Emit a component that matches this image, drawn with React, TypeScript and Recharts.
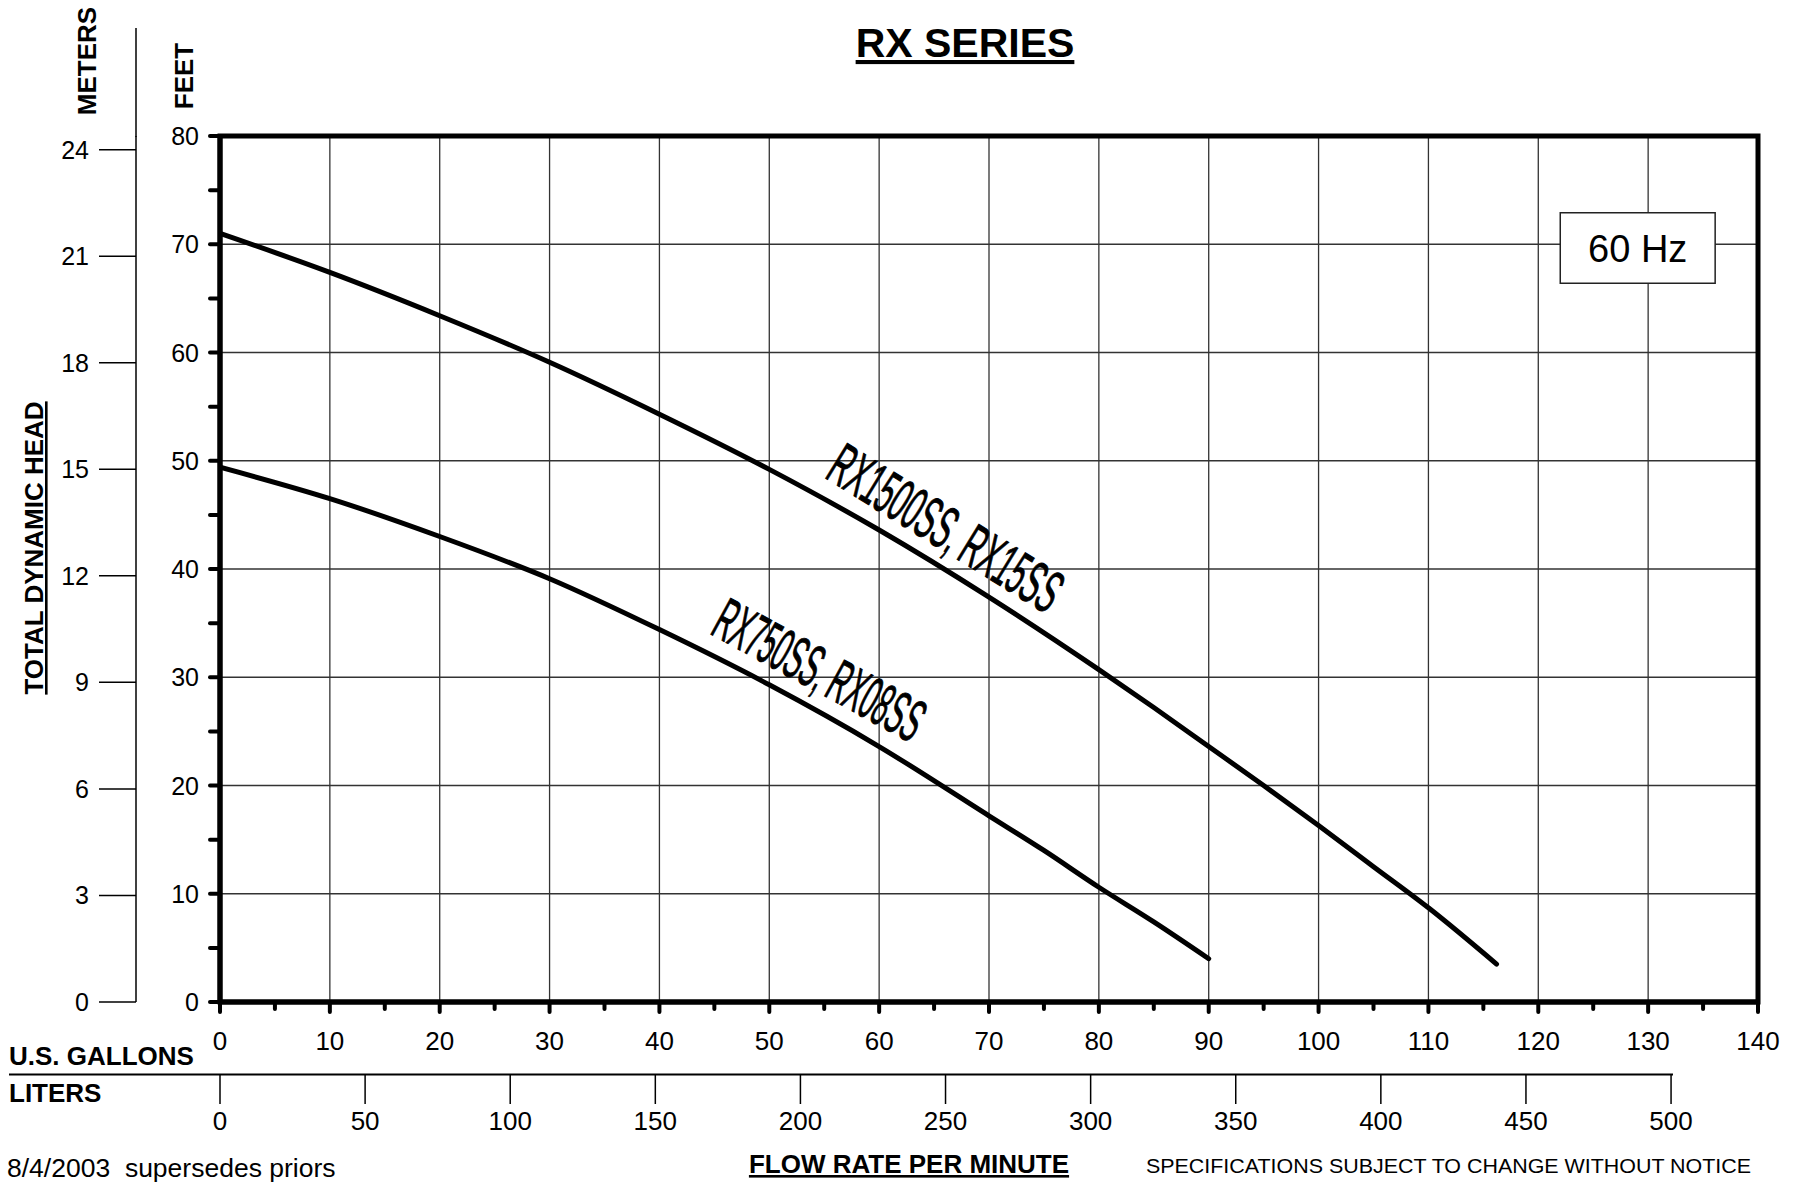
import React from 'react';
import { LineChart, Line, XAxis, YAxis, CartesianGrid, ReferenceArea, ReferenceDot } from 'recharts';

const FONT = '"Liberation Sans", Arial, Helvetica, sans-serif';
const FT_PER_M = 3.28084;
const L_PER_GAL = 3.78541;

// axis ticks (minor ticks every 5 on the feet / gallon axes)
const galTicks = [0, 5, 10, 15, 20, 25, 30, 35, 40, 45, 50, 55, 60, 65, 70, 75, 80, 85, 90, 95, 100, 105, 110, 115, 120, 125, 130, 135, 140];
const feetTicks = [0, 5, 10, 15, 20, 25, 30, 35, 40, 45, 50, 55, 60, 65, 70, 75, 80];
const meterTicks = [0, 3, 6, 9, 12, 15, 18, 21, 24];
const literTicks = [0, 50, 100, 150, 200, 250, 300, 350, 400, 450, 500];
const gridGal = [10, 20, 30, 40, 50, 60, 70, 80, 90, 100, 110, 120, 130];
const gridFeet = [10, 20, 30, 40, 50, 60, 70];

// RX1500SS, RX15SS curve (gallons per minute / feet of head)
const rx1500Gal = [0, 10, 20, 30, 40, 50, 60, 70, 80, 85, 90, 95, 100, 105, 110, 116.2];
const rx1500Head = [71.0, 67.4, 63.4, 59.1, 54.3, 49.2, 43.6, 37.4, 30.7, 27.2, 23.6, 20.0, 16.3, 12.5, 8.7, 3.5];

// RX750SS, RX08SS curve
const rx750Gal = [0, 10, 20, 30, 40, 50, 60, 70, 75, 80, 85, 90];
const rx750Head = [49.4, 46.5, 43.0, 39.1, 34.4, 29.3, 23.6, 17.2, 14.0, 10.6, 7.4, 4.0];

const rx1500 = rx1500Gal.map((g, i) => ({ gal: g, head: rx1500Head[i] }));
const rx750 = rx750Gal.map((g, i) => ({ gal: g, head: rx750Head[i] }));
// same curve expressed in liters, only used so the liters axis has a series
const rx750Liters = rx750Gal.map((g, i) => ({ liters: g * L_PER_GAL, head: rx750Head[i] }));

const GalTick = (props: any) => {
  const { x, y, payload } = props;
  const major = payload.value % 10 === 0;
  return (
    <g>
      <line x1={x} x2={x} y1={y} y2={y + (major ? 10 : 7)} stroke="#000" strokeWidth={4} strokeLinecap="round" />
      {major && (
        <text x={x} y={y + 48} textAnchor="middle" fontSize={26} fontFamily={FONT} fill="#000">
          {payload.value}
        </text>
      )}
    </g>
  );
};

const FeetTick = (props: any) => {
  const { x, y, payload } = props;
  const major = payload.value % 10 === 0;
  return (
    <g>
      <line x1={x - 10} x2={x} y1={y} y2={y} stroke="#000" strokeWidth={4} strokeLinecap="round" />
      {major && (
        <text x={x - 21} y={y + 9} textAnchor="end" fontSize={25} fontFamily={FONT} fill="#000">
          {payload.value}
        </text>
      )}
    </g>
  );
};

const MeterTick = (props: any) => {
  const { x, y, payload } = props;
  return (
    <g>
      <line x1={x - 37} x2={x} y1={y} y2={y} stroke="#000" strokeWidth={1.5} />
      <text x={x - 47} y={y + 9} textAnchor="end" fontSize={25} fontFamily={FONT} fill="#000">
        {payload.value}
      </text>
    </g>
  );
};

const LiterTick = (props: any) => {
  const { x, y, payload } = props;
  return (
    <g>
      <line x1={x} x2={x} y1={y} y2={y + 30} stroke="#000" strokeWidth={1.5} />
      <text x={x} y={y + 56} textAnchor="middle" fontSize={26} fontFamily={FONT} fill="#000">
        {payload.value}
      </text>
    </g>
  );
};

// rotated, condensed model name drawn along a curve
const curveLabel = (text: string, angle: number, length: number) => (props: any) => {
  const { viewBox } = props;
  const cx = viewBox.x + viewBox.width / 2;
  const cy = viewBox.y + viewBox.height / 2;
  return (
    <text
      x={cx}
      y={cy}
      dy={21}
      transform={`rotate(${angle} ${cx} ${cy})`}
      textAnchor="middle"
      fontSize={60}
      fontFamily={FONT}
      textLength={length}
      lengthAdjust="spacingAndGlyphs"
      fill="#000"
      stroke="#000"
      strokeWidth={1}
    >
      {text}
    </text>
  );
};

const App: React.FC = () => {
  return (
    <div style={{ position: 'absolute', left: 0, top: 0, width: 1801, height: 1182, background: '#fff' }}>
      <LineChart width={1801} height={1182} margin={{ top: 136, right: 43, bottom: 38, left: 36 }}>
        <CartesianGrid horizontalValues={gridFeet} verticalValues={gridGal} stroke="#333" strokeWidth={1.3} />
        <XAxis
          type="number"
          dataKey="gal"
          domain={[0, 140]}
          ticks={galTicks}
          interval={0}
          height={72}
          tickSize={0}
          tickMargin={0}
          tickLine={false}
          axisLine={{ stroke: '#000', strokeWidth: 5 }}
          tick={<GalTick />}
          allowDataOverflow
        />
        <XAxis
          xAxisId="l"
          type="number"
          dataKey="liters"
          domain={[0, 140 * L_PER_GAL]}
          ticks={literTicks}
          interval={0}
          height={70}
          tickSize={0}
          tickMargin={0}
          tickLine={false}
          axisLine={false}
          tick={<LiterTick />}
          allowDataOverflow
        />
        <YAxis
          type="number"
          domain={[0, 80]}
          ticks={feetTicks}
          interval={0}
          width={84}
          tickSize={0}
          tickMargin={0}
          tickLine={false}
          axisLine={{ stroke: '#000', strokeWidth: 5 }}
          tick={<FeetTick />}
          allowDataOverflow
        />
        <YAxis
          yAxisId="m"
          type="number"
          domain={[0, 80 / FT_PER_M]}
          ticks={meterTicks}
          interval={0}
          width={100}
          tickSize={0}
          tickMargin={0}
          tickLine={false}
          axisLine={{ stroke: '#000', strokeWidth: 1.5 }}
          tick={<MeterTick />}
          allowDataOverflow
        />
        <ReferenceArea
          x1={122}
          x2={136.1}
          y1={66.4}
          y2={72.9}
          fill="#fff"
          fillOpacity={1}
          stroke="#222"
          strokeWidth={1.5}
          label={{ value: '60 Hz', position: 'center', fontSize: 38, fill: '#000', fontFamily: FONT }}
        />
        <Line
          data={rx750Liters}
          xAxisId="l"
          dataKey="head"
          type="monotone"
          stroke="none"
          dot={false}
          legendType="none"
          isAnimationActive={false}
        />
        <Line
          data={rx1500}
          dataKey="head"
          type="monotone"
          stroke="#000"
          strokeWidth={5}
          strokeLinecap="round"
          dot={false}
          isAnimationActive={false}
        />
        <Line
          data={rx750}
          dataKey="head"
          type="monotone"
          stroke="#000"
          strokeWidth={5}
          strokeLinecap="round"
          dot={false}
          isAnimationActive={false}
        />
        <ReferenceDot x={66.1} y={43.8} r={1} fill="none" stroke="none" label={curveLabel('RX1500SS, RX15SS', 31.6, 262)} />
        <ReferenceDot x={54.6} y={30.7} r={1} fill="none" stroke="none" label={curveLabel('RX750SS, RX08SS', 28.5, 230)} />
        <ReferenceArea x1={0} x2={140} y1={0} y2={80} fill="none" stroke="#000" strokeWidth={5} />
      </LineChart>

      <svg width={1801} height={1182} style={{ position: 'absolute', left: 0, top: 0, pointerEvents: 'none' }}>
        <g fontFamily={FONT} fill="#000">
          <text x={965} y={57} textAnchor="middle" fontSize={41} fontWeight="bold" style={{ textDecoration: 'underline' }}>
            RX SERIES
          </text>
          <text transform="translate(96 61) rotate(-90)" textAnchor="middle" fontSize={26} fontWeight="bold">
            METERS
          </text>
          <text transform="translate(193 76) rotate(-90)" textAnchor="middle" fontSize={26} fontWeight="bold">
            FEET
          </text>
          <text transform="translate(43 548) rotate(-90)" textAnchor="middle" fontSize={26} fontWeight="bold" style={{ textDecoration: 'underline' }}>
            TOTAL DYNAMIC HEAD
          </text>
          <text x={9} y={1065} fontSize={26} fontWeight="bold">U.S. GALLONS</text>
          <text x={9} y={1102} fontSize={26} fontWeight="bold">LITERS</text>
          <text x={7} y={1177} fontSize={26.5} style={{ whiteSpace: 'pre' }}>8/4/2003  supersedes priors</text>
          <text x={909} y={1173} textAnchor="middle" fontSize={26} fontWeight="bold" style={{ textDecoration: 'underline' }}>
            FLOW RATE PER MINUTE
          </text>
          <text x={1146} y={1173} fontSize={21} textLength={605} lengthAdjust="spacingAndGlyphs">
            SPECIFICATIONS SUBJECT TO CHANGE WITHOUT NOTICE
          </text>
        </g>
        <line x1={136} x2={136} y1={28} y2={137} stroke="#000" strokeWidth={1.5} />
        <line x1={9} x2={1673} y1={1074.5} y2={1074.5} stroke="#000" strokeWidth={2} />
      </svg>
    </div>
  );
};

export default App;
